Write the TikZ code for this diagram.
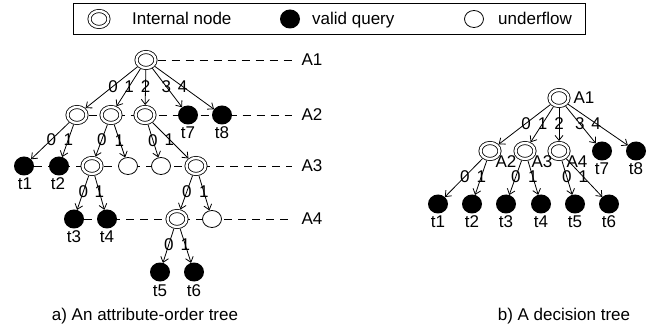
\documentclass[tikz,border=0pt]{standalone}
\usepackage{fontspec}
\setmainfont{Liberation Sans}
\usetikzlibrary{shapes.geometric,arrows.meta,backgrounds}
\begin{document}
\begin{tikzpicture}[x=1pt,y=-1pt,
  every node/.style={font=\fontsize{17}{20}\selectfont},
  inode/.style={ellipse,draw,double,double distance=2.4pt,line width=0.8pt,minimum width=19pt,minimum height=16pt,inner sep=0pt,outer sep=2pt,fill=white},
  vnode/.style={ellipse,fill=black,minimum width=20pt,minimum height=19pt,inner sep=0pt,outer sep=0pt},
  unode/.style={ellipse,draw,line width=0.8pt,fill=white,minimum width=19pt,minimum height=17pt,inner sep=0pt,outer sep=0.4pt},
  txt/.style={inner sep=0pt,text height=12pt,text depth=0pt},
  arr/.style={-{Straight Barb[length=5pt,width=8pt]},line width=0.8pt},
  guide/.style={dash pattern=on 8pt off 6pt,line width=0.8pt,shorten >=9pt},
  elab/.style={inner sep=0pt,pos=0.47,text height=12pt,text depth=0pt}
]
\useasboundingbox (0,0) rectangle (654,326);

% legend
\node[draw,line width=0.8pt,minimum width=512pt,minimum height=31pt,anchor=north west,inner sep=0pt] (legend) at (73,3) {};
\node[inode] (lgI) at (99,19) {};
\node[txt,anchor=west] (lgIt) at (132,19) {Internal node};
\node[vnode] (lgV) at (290,19) {};
\node[txt,anchor=west] (lgVt) at (312,19) {valid query};
\node[unode] (lgU) at (474,19) {};
\node[txt,anchor=west] (lgUt) at (498,19) {underflow};

% ---------- left tree ----------
\node[inode] (rA1) at (146,60) {};
\node[inode] (a21) at (77,115) {};
\node[inode] (a22) at (111,115) {};
\node[inode] (a23) at (145,115) {};
\node[vnode] (t7) at (188,115) {};
\node[vnode] (t8) at (222,115) {};
\node[vnode] (t1) at (24,166) {};
\node[vnode] (t2) at (59,166) {};
\node[inode] (a31) at (92,166) {};
\node[unode] (u1) at (128,166) {};
\node[unode] (u2) at (161,166) {};
\node[inode] (a32) at (196,166) {};
\node[vnode] (t3) at (74,219) {};
\node[vnode] (t4) at (107,219) {};
\node[inode] (a41) at (177,219) {};
\node[unode] (u3) at (212,219) {};
\node[vnode] (t5) at (160,272) {};
\node[vnode] (t6) at (194,272) {};

\node[txt] (LA1) at (312,60) {A1};
\node[txt] (LA2) at (312,115) {A2};
\node[txt] (LA3) at (312,166) {A3};
\node[txt] (LA4) at (312,219) {A4};

\node[txt] (lt7) at (188,133) {t7};
\node[txt] (lt8) at (222,133) {t8};
\node[txt] (lt1) at (25,184) {t1};
\node[txt] (lt2) at (58,184) {t2};
\node[txt] (lt3) at (74,237) {t3};
\node[txt] (lt4) at (107,237) {t4};
\node[txt] (lt5) at (160,290) {t5};
\node[txt] (lt6) at (194,290) {t6};

\begin{scope}[on background layer]
\draw[guide] (rA1) -- (LA1.west);
\draw[guide] (a21) -- (LA2.west);
\draw[guide] (t1) -- (LA3.west);
\draw[guide] (t3) -- (LA4.west);
\end{scope}

\draw[arr] (rA1) -- node[elab]{0} (a21);
\draw[arr] (rA1) -- node[elab]{1} (a22);
\draw[arr] (rA1) -- node[elab]{2} (a23);
\draw[arr] (rA1) -- node[elab]{3} (t7);
\draw[arr] (rA1) -- node[elab]{4} (t8);
\draw[arr] (a21) -- node[elab]{0} (t1);
\draw[arr] (a21) -- node[elab]{1} (t2);
\draw[arr] (a22) -- node[elab]{0} (a31);
\draw[arr] (a22) -- node[elab]{1} (u1);
\draw[arr] (a23) -- node[elab]{0} (u2);
\draw[arr] (a23) -- node[elab]{1} (a32);
\draw[arr] (a31) -- node[elab]{0} (t3);
\draw[arr] (a31) -- node[elab]{1} (t4);
\draw[arr] (a32) -- node[elab]{0} (a41);
\draw[arr] (a32) -- node[elab]{1} (u3);
\draw[arr] (a41) -- node[elab]{0} (t5);
\draw[arr] (a41) -- node[elab]{1} (t6);

\node[txt] (capa) at (145,314) {a) An attribute-order tree};

% ---------- right tree ----------
\node[inode] (R) at (559,98) {};
\node[inode] (b2) at (490,151) {};
\node[inode] (b3) at (525,151) {};
\node[inode] (b4) at (559,151) {};
\node[vnode] (s7) at (602,151) {};
\node[vnode] (s8) at (636,151) {};
\node[vnode] (s1) at (438,204) {};
\node[vnode] (s2) at (472,204) {};
\node[vnode] (s3) at (506,204) {};
\node[vnode] (s4) at (541,204) {};
\node[vnode] (s5) at (575,204) {};
\node[vnode] (s6) at (609,204) {};

\node[txt] (RA1) at (584,98) {A1};
\node[txt] (RA2) at (506,162) {A2};
\node[txt] (RA3) at (542,162) {A3};
\node[txt] (RA4) at (577,162) {A4};
\node[txt] (ls7) at (602,169) {t7};
\node[txt] (ls8) at (636,169) {t8};
\node[txt] (ls1) at (438,222) {t1};
\node[txt] (ls2) at (472,222) {t2};
\node[txt] (ls3) at (506,222) {t3};
\node[txt] (ls4) at (541,222) {t4};
\node[txt] (ls5) at (575,222) {t5};
\node[txt] (ls6) at (609,222) {t6};

\draw[arr] (R) -- node[elab]{0} (b2);
\draw[arr] (R) -- node[elab]{1} (b3);
\draw[arr] (R) -- node[elab]{2} (b4);
\draw[arr] (R) -- node[elab]{3} (s7);
\draw[arr] (R) -- node[elab]{4} (s8);
\draw[arr] (b2) -- node[elab]{0} (s1);
\draw[arr] (b2) -- node[elab]{1} (s2);
\draw[arr] (b3) -- node[elab]{0} (s3);
\draw[arr] (b3) -- node[elab]{1} (s4);
\draw[arr] (b4) -- node[elab]{0} (s5);
\draw[arr] (b4) -- node[elab]{1} (s6);

\node[txt] (capb) at (564,314) {b) A decision tree};
\end{tikzpicture}
\end{document}
